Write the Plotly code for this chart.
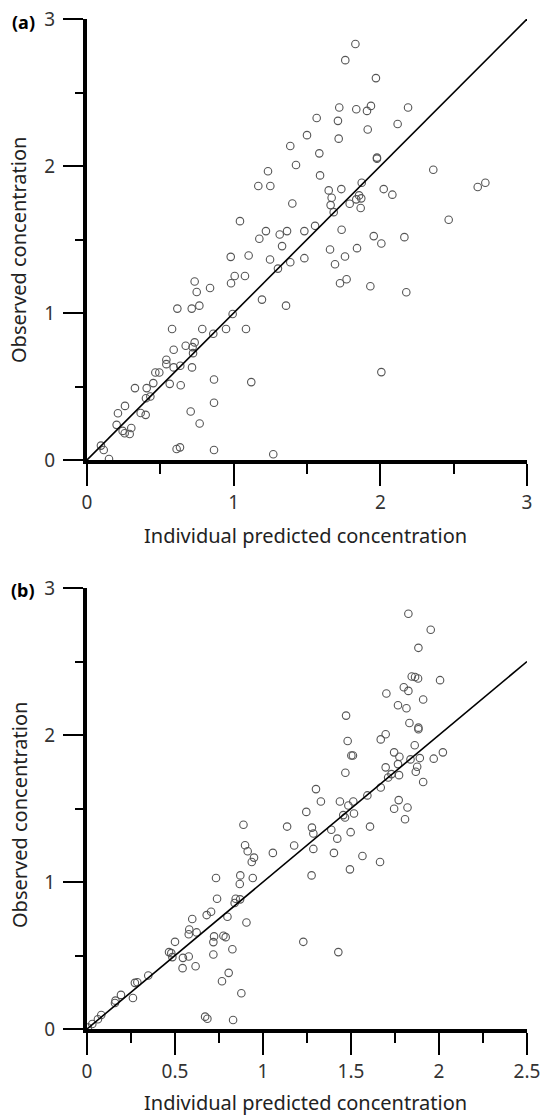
import plotly.graph_objects as go

# ---------------- Panel (a) data ----------------
a_pred = [1.50, 1.386, 1.425, 1.234, 1.168, 1.25, 1.40, 1.043, 1.22, 1.314, 1.364, 1.482, 1.175,
          1.83, 1.761, 1.97, 1.72, 1.836, 1.909, 1.936, 2.189, 1.566, 1.711, 2.118, 1.716, 1.914,
          1.584, 1.977, 1.977, 1.589, 2.361, 1.648, 1.734, 1.873, 1.668, 1.661, 1.682, 1.791,
          1.855, 1.870, 1.836, 1.866, 2.023, 2.082, 2.664, 2.716, 2.466, 1.555, 1.736, 1.955, 2.164,
          1.482, 1.657, 1.759, 1.691, 1.841, 2.007, 1.725, 1.77, 1.932, 2.177, 2.007,
          1.33, 0.98, 1.102, 1.248, 1.386, 1.302, 1.007, 1.077, 0.982, 0.734, 0.748, 0.839, 1.193,
          1.357, 0.616, 0.714, 0.766, 0.993, 0.58, 0.786, 0.948, 1.084, 0.861, 0.591, 0.673, 0.734,
          0.72, 0.723, 0.541, 0.541, 0.591, 0.636, 0.716, 0.466, 0.493, 0.452, 0.564, 0.639, 0.327,
          0.407, 0.402, 0.432, 0.866, 1.12, 0.259, 0.211, 0.366, 0.40, 0.707, 0.866, 0.202, 0.302,
          0.243, 0.257, 0.291, 0.768, 0.095, 0.114, 0.15, 0.611, 0.634, 0.866, 1.27]
a_obs = [2.21, 2.136, 2.007, 1.964, 1.864, 1.864, 1.745, 1.625, 1.557, 1.534, 1.557, 1.557, 1.505,
         2.83, 2.72, 2.598, 2.398, 2.386, 2.375, 2.409, 2.398, 2.327, 2.307, 2.286, 2.186, 2.248,
         2.086, 2.057, 2.05, 1.936, 1.975, 1.834, 1.843, 1.886, 1.784, 1.734, 1.686, 1.743,
         1.80, 1.78, 1.773, 1.714, 1.843, 1.805, 1.857, 1.886, 1.634, 1.593, 1.566, 1.523, 1.516,
         1.373, 1.432, 1.384, 1.332, 1.441, 1.473, 1.202, 1.23, 1.182, 1.141, 0.598,
         1.455, 1.382, 1.391, 1.364, 1.345, 1.302, 1.252, 1.252, 1.202, 1.214, 1.143, 1.170, 1.091,
         1.05, 1.03, 1.03, 1.05, 0.993, 0.891, 0.891, 0.891, 0.891, 0.859, 0.75, 0.777, 0.80,
         0.768, 0.727, 0.682, 0.652, 0.63, 0.641, 0.63, 0.595, 0.595, 0.523, 0.518, 0.509, 0.489,
         0.489, 0.42, 0.432, 0.548, 0.53, 0.368, 0.318, 0.32, 0.307, 0.33, 0.389, 0.239, 0.218,
         0.198, 0.182, 0.177, 0.248, 0.098, 0.068, 0.007, 0.075, 0.086, 0.068, 0.039]

# ---------------- Panel (b) data ----------------
b_pred = [1.826, 1.953, 1.883, 1.845, 1.864, 1.881, 2.006, 1.701, 1.80, 1.826, 1.910, 1.767, 1.815,
          1.472, 1.832, 1.883, 1.883, 1.697, 1.669, 1.481, 1.862, 1.502, 1.511, 1.745, 1.775, 1.838,
          1.891, 1.970, 2.022, 1.767, 1.697, 1.876, 1.868, 1.468, 1.711, 1.730, 1.773, 1.910, 1.301,
          1.669,
          1.329, 1.437, 1.513, 1.593, 1.485, 1.517, 1.456, 1.466, 1.246, 1.771, 1.745, 1.821, 1.807,
          1.608, 1.278, 1.286, 1.388, 1.498, 1.422, 1.286, 1.403, 1.565, 1.665, 1.494, 1.276, 1.229,
          1.428,
          0.889, 1.137, 1.177, 0.898, 0.913, 1.056, 0.949, 0.936, 0.733, 0.871, 0.942, 0.868, 0.739,
          0.845, 0.870, 0.839, 0.598, 0.680, 0.705, 0.798, 0.906, 0.581, 0.578, 0.623, 0.500, 0.722,
          0.718, 0.775, 0.788, 0.466, 0.479, 0.485, 0.545, 0.578, 0.718, 0.826, 0.543, 0.617, 0.348,
          0.272, 0.286, 0.805, 0.767, 0.193, 0.162, 0.159, 0.261, 0.877, 0.081, 0.062, 0.030, 0.671,
          0.684, 0.830, 0.005]
b_obs = [2.825, 2.716, 2.593, 2.398, 2.395, 2.384, 2.373, 2.282, 2.325, 2.30, 2.241, 2.202, 2.182,
         2.132, 2.082, 2.05, 2.039, 2.005, 1.970, 1.959, 1.930, 1.861, 1.861, 1.882, 1.852, 1.834,
         1.843, 1.839, 1.882, 1.802, 1.780, 1.784, 1.75, 1.743, 1.711, 1.734, 1.727, 1.680, 1.632,
         1.643,
         1.548, 1.548, 1.548, 1.589, 1.520, 1.466, 1.455, 1.439, 1.477, 1.557, 1.498, 1.507, 1.427,
         1.377, 1.370, 1.330, 1.355, 1.339, 1.295, 1.225, 1.198, 1.177, 1.136, 1.086, 1.045, 0.593,
         0.523,
         1.389, 1.377, 1.248, 1.25, 1.209, 1.198, 1.166, 1.136, 1.027, 1.045, 1.027, 0.986, 0.886,
         0.886, 0.882, 0.857, 0.748, 0.775, 0.798, 0.764, 0.725, 0.677, 0.645, 0.657, 0.593, 0.630,
         0.591, 0.634, 0.625, 0.523, 0.516, 0.489, 0.484, 0.493, 0.507, 0.543, 0.414, 0.427, 0.364,
         0.314, 0.318, 0.382, 0.325, 0.232, 0.193, 0.177, 0.211, 0.243, 0.095, 0.066, 0.034, 0.084,
         0.070, 0.061, 0.01]

identity_a = [0, 3]
identity_b = [0, 2.5]

a_ticks = [0, 1, 2, 3]
a_minor = [0.5, 1.5, 2.5]
b_xticks = [0, 0.5, 1, 1.5, 2, 2.5]
b_xticklabels = ["0", "0.5", "1", "1.5", "2", "2.5"]
b_xminor = [0.25, 0.75, 1.25, 1.75, 2.25]
y_ticks = [0, 1, 2, 3]
y_minor = [0.5, 1.5, 2.5]

W, H = 543, 1115
FONT = "Noto Sans"
marker = dict(symbol="circle", size=7.5, color="rgba(0,0,0,0)",
              line=dict(color="#555555", width=1.1))

fig = go.Figure()
fig.add_trace(go.Scatter(x=a_pred, y=a_obs, mode="markers", marker=marker,
                         xaxis="x", yaxis="y", cliponaxis=False, showlegend=False))
fig.add_trace(go.Scatter(x=identity_a, y=identity_a, mode="lines",
                         line=dict(color="black", width=1.6),
                         xaxis="x", yaxis="y", showlegend=False))
fig.add_trace(go.Scatter(x=b_pred, y=b_obs, mode="markers", marker=marker,
                         xaxis="x2", yaxis="y2", cliponaxis=False, showlegend=False))
fig.add_trace(go.Scatter(x=identity_b, y=identity_b, mode="lines",
                         line=dict(color="black", width=1.6),
                         xaxis="x2", yaxis="y2", showlegend=False))

xdom = [87 / W, 527 / W]
tickfont = dict(family=FONT, size=19, color="#333333")

def xaxis_cfg(rng, tv, tt, minor_vals, anchor, dom):
    return dict(domain=dom, range=rng, anchor=anchor, showgrid=False, zeroline=False,
                showline=True, linewidth=4, linecolor="black", mirror=False,
                ticks="outside", ticklen=22, tickwidth=2, tickcolor="black",
                tickvals=tv, ticktext=tt, tickfont=tickfont, automargin=False,
                minor=dict(tickvals=minor_vals, ticks="outside", ticklen=10,
                           tickwidth=2, tickcolor="black", showgrid=False))

def yaxis_cfg(anchor, dom):
    return dict(domain=dom, range=[0, 3], anchor=anchor, showgrid=False, zeroline=False,
                showline=True, linewidth=4, linecolor="black",
                ticks="outside", ticklen=20, tickwidth=2, tickcolor="black",
                tickvals=y_ticks, ticktext=[str(v) for v in y_ticks], tickfont=tickfont,
                automargin=False, ticklabelstandoff=4,
                minor=dict(tickvals=y_minor, ticks="outside", ticklen=8,
                           tickwidth=2, tickcolor="black", showgrid=False))

ya_dom = [1 - 460 / H, 1 - 19 / H]
yb_dom = [1 - 1029 / H, 1 - 588 / H]

fig.update_layout(
    width=W, height=H,
    margin=dict(l=0, r=0, t=0, b=0),
    paper_bgcolor="white", plot_bgcolor="white",
    xaxis=xaxis_cfg([0, 3], a_ticks, [str(v) for v in a_ticks], a_minor, "y", xdom),
    yaxis=yaxis_cfg("x", ya_dom),
    xaxis2=xaxis_cfg([0, 2.5], b_xticks, b_xticklabels, b_xminor, "y2", xdom),
    yaxis2=yaxis_cfg("x2", yb_dom),
)

title_font = dict(family=FONT, size=20, color="#222222")
ann = []
ann.append(dict(text="<b>(a)</b>", x=37 / W, y=1 - 22 / H, xref="paper", yref="paper",
                xanchor="right", yanchor="middle", showarrow=False,
                font=dict(family=FONT, size=18, color="black")))
ann.append(dict(text="<b>(b)</b>", x=37 / W, y=1 - 590 / H, xref="paper", yref="paper",
                xanchor="right", yanchor="middle", showarrow=False,
                font=dict(family=FONT, size=18, color="black")))
ann.append(dict(text="Observed concentration", x=19 / W, y=1 - 250 / H, xref="paper", yref="paper",
                xanchor="center", yanchor="middle", textangle=-90, showarrow=False, font=title_font))
ann.append(dict(text="Observed concentration", x=19 / W, y=1 - 815 / H, xref="paper", yref="paper",
                xanchor="center", yanchor="middle", textangle=-90, showarrow=False, font=title_font))
ann.append(dict(text="Individual predicted concentration", x=305 / W, y=1 - 536 / H, xref="paper",
                yref="paper", xanchor="center", yanchor="middle", showarrow=False, font=title_font))
ann.append(dict(text="Individual predicted concentration", x=305 / W, y=1 - 1102 / H, xref="paper",
                yref="paper", xanchor="center", yanchor="middle", showarrow=False, font=title_font))
fig.update_layout(annotations=ann)

fig.write_html("out.html", config={"displayModeBar": False},
               post_script="document.body.style.margin='0';document.body.style.overflow='hidden';")
